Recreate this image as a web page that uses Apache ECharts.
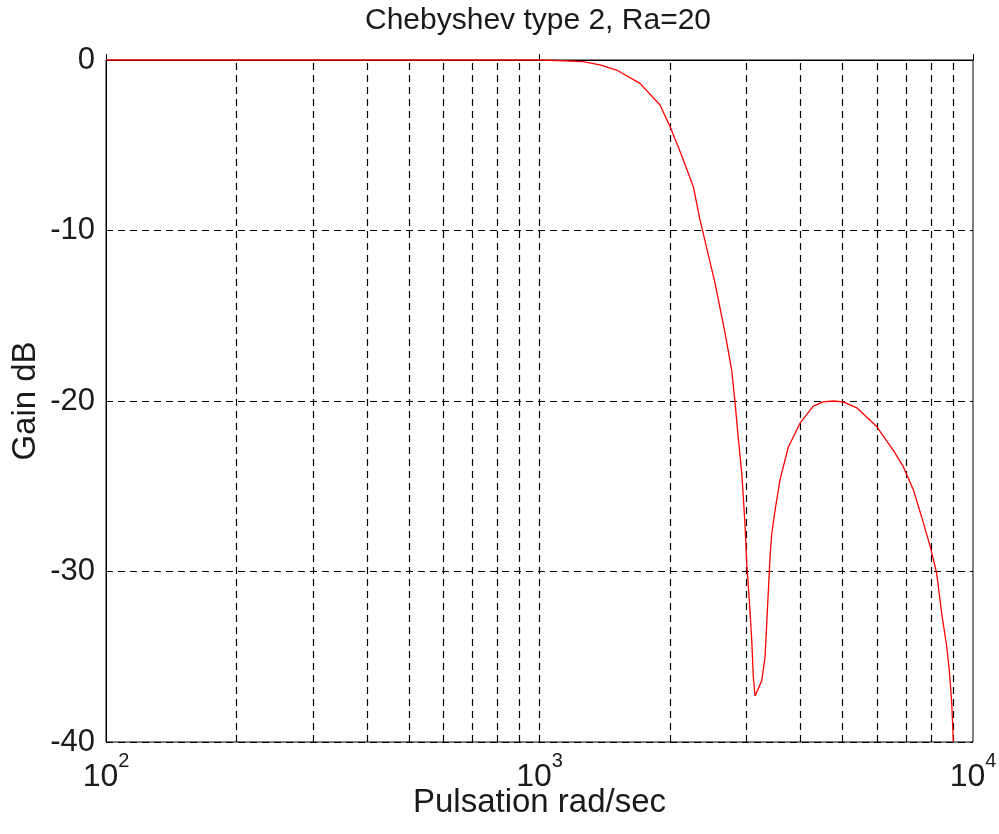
<!DOCTYPE html>
<html>
<head>
<meta charset="utf-8">
<script src="https://cdn.jsdelivr.net/npm/echarts@6/dist/echarts.min.js"></script>
<style>
  html, body { margin: 0; padding: 0; background: #fff; overflow: hidden; }
  #chart { width: 999px; height: 834px; }
</style>
</head>
<body>
<div id="chart"></div>
<script>
// Frequency response of a Chebyshev type 2 low-pass filter (stopband attenuation 20 dB)
const pulsation = [100, 1000, 1100, 1259, 1379, 1507, 1705, 1897, 2000, 2120, 2264, 2346, 2541, 2679,
  2776, 2825, 2875, 2927, 2952, 2978, 3006, 3048, 3087, 3114, 3142, 3256, 3314, 3344, 3373, 3403,
  3434, 3495, 3589, 3750, 3990, 4281, 4515, 4760, 5021, 5393, 5997, 6549, 6906, 7283, 7613, 7959,
  8245, 8467, 8697, 8818, 8932, 9008];
const gainDb = [0, 0, -0.03, -0.1, -0.29, -0.59, -1.37, -2.64, -3.9, -5.5, -7.43, -9.38, -13.1, -16.0,
  -18.2, -20.08, -22.2, -24.2, -25.6, -27.2, -29.5, -31.7, -34.0, -36.2, -37.3, -36.4, -35.0, -33.0,
  -31.1, -29.1, -27.8, -26.4, -24.6, -22.7, -21.3, -20.3, -20.05, -20.0, -20.05, -20.4, -21.5, -22.9,
  -23.85, -25.2, -26.8, -28.5, -30.1, -32.45, -34.4, -35.8, -37.7, -40];

// Decade boundaries and their exponents for the x tick labels
const decades = [100, 1000, 10000];
const decadeExponents = ['2', '3', '4'];

const titleText = 'Chebyshev type 2, Ra=20';
const xName = 'Pulsation rad/sec';
const yName = 'Gain dB';

const FONT = '"Liberation Sans", Arial, Helvetica, sans-serif';
const INK = '#1a1a1a';
const dashed = { color: '#000', width: 1.2, type: [7, 5] };

// Vertical grid lines at 1..9 times each decade inside the plotted range
const gridValues = [];
for (let d = 0; d < decades.length - 1; d++) {
  for (let k = 1; k <= 9; k++) {
    const v = decades[d] * k;
    if (v > decades[0]) gridValues.push(v);
  }
}

const chart = echarts.init(document.getElementById('chart'), null, { renderer: 'canvas', width: 999, height: 834 });

chart.setOption({
  animation: false,
  backgroundColor: '#fff',
  textStyle: { fontFamily: FONT },
  graphic: [{
    type: 'text',
    x: 538,
    y: 6,
    style: {
      text: titleText,
      font: '30px ' + FONT,
      fill: INK,
      textAlign: 'center',
      textVerticalAlign: 'top'
    }
  }],
  grid: {
    left: 106, top: 60, width: 867, height: 682,
    containLabel: false,
    outerBoundsMode: 'none',
    show: true, borderColor: '#000', borderWidth: 1
  },
  xAxis: {
    type: 'log',
    logBase: 10,
    min: 100,
    max: 10000,
    name: xName,
    nameLocation: 'middle',
    nameGap: 44,
    nameMoveOverlap: false,
    nameTextStyle: { fontSize: 33, color: INK, fontFamily: FONT },
    axisLine: { show: true, lineStyle: { color: '#000', width: 1 } },
    axisTick: { show: true, inside: true, length: 6, lineStyle: { color: '#000' } },
    splitLine: { show: false },
    minorTick: { show: false },
    axisLabel: {
      margin: 9,
      formatter: function (v) {
        const i = decades.indexOf(Math.round(v));
        if (i < 0) return '';
        return '{b|10}{s|' + decadeExponents[i] + '}';
      },
      rich: {
        b: { fontSize: 32, lineHeight: 42, color: INK, fontFamily: FONT, verticalAlign: 'bottom' },
        s: { fontSize: 20, lineHeight: 20, color: INK, fontFamily: FONT, verticalAlign: 'top' }
      }
    }
  },
  yAxis: {
    type: 'value',
    min: -40,
    max: 0,
    interval: 10,
    name: yName,
    nameLocation: 'middle',
    nameGap: 64,
    nameRotate: 90,
    nameMoveOverlap: false,
    nameTextStyle: { fontSize: 33, color: INK, fontFamily: FONT },
    axisLine: { show: true, lineStyle: { color: '#000', width: 1 } },
    axisTick: { show: true, inside: true, length: 6, lineStyle: { color: '#000' } },
    splitLine: { show: true, lineStyle: dashed },
    axisLabel: { fontSize: 31, color: INK, fontFamily: FONT, margin: 11 }
  },
  series: [{
    type: 'line',
    data: pulsation.map((x, i) => [x, gainDb[i]]),
    showSymbol: false,
    symbol: 'none',
    smooth: false,
    clip: true,
    z: 5,
    lineStyle: { color: '#ff0000', width: 1.3 },
    markLine: {
      silent: true,
      symbol: 'none',
      animation: false,
      label: { show: false },
      lineStyle: dashed,
      z: 1,
      data: gridValues.map(v => ({ xAxis: v }))
    }
  }]
});
</script>
</body>
</html>
